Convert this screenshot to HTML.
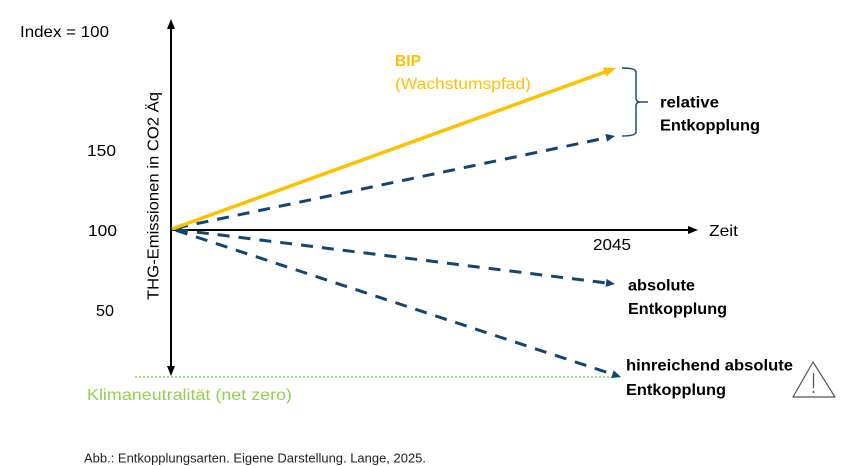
<!DOCTYPE html>
<html>
<head>
<meta charset="utf-8">
<style>
html,body{margin:0;padding:0;background:#fff;}
svg{display:block;}
text{font-family:"Liberation Sans",sans-serif;}
</style>
</head>
<body>
<svg width="864" height="466" viewBox="0 0 864 466" xmlns="http://www.w3.org/2000/svg">
<rect width="864" height="466" fill="#fff"/>

<!-- green net zero dotted line -->
<line x1="135" y1="377" x2="620" y2="377" stroke="#92D050" stroke-width="1.5" stroke-dasharray="2,2"/>

<!-- y axis -->
<line x1="171" y1="28" x2="171" y2="367" stroke="#000" stroke-width="2"/>
<polygon points="171,19 167,29 175,29" fill="#000"/>
<polygon points="171,376 167,366 175,366" fill="#000"/>

<!-- x axis -->
<line x1="171" y1="230" x2="689" y2="230" stroke="#000" stroke-width="2"/>
<polygon points="698,230 688,226 688,234" fill="#000"/>

<!-- dashed lines -->
<g stroke="#124672" stroke-width="3" stroke-dasharray="12,9" fill="none">
<line x1="176" y1="228" x2="606.2" y2="137.85"/>
<line x1="176" y1="229.5" x2="606.1" y2="282.9"/>
<line x1="176" y1="230.3" x2="612.5" y2="374.2"/>
</g>
<g fill="#124672">
<polygon points="615,136 607.0,141.8 605.4,133.9"/>
<polygon points="615,284 605.6,286.9 606.6,278.9"/>
<polygon points="621,377 611.2,378.0 613.7,370.4"/>
<polygon points="172,229 182,225.5 182,232.5"/>
</g>

<!-- yellow BIP line -->
<line x1="172" y1="229" x2="605" y2="72" stroke="#FFC000" stroke-width="3.5"/>
<polygon points="616,68 606.4,76.8 603.0,67.4" fill="#FFC000"/>

<!-- bracket -->
<path d="M622,68 Q636,68 636,72 L636,98 Q636,102 640,102 L648,102 M640,102 Q636,102 636,106 L636,132 Q636,136 622,136" stroke="#1F4E79" stroke-width="1.5" fill="none"/>

<!-- warning triangle -->
<path d="M813,362 L793,397 L835,397 Z" stroke="#555" stroke-width="1.2" fill="#fff" stroke-linejoin="round"/>
<line x1="813.5" y1="373" x2="813.5" y2="388" stroke="#555" stroke-width="1.3"/>
<circle cx="813.5" cy="392" r="1" fill="#555"/>

<!-- texts -->
<g font-size="16" fill="#000">
<text x="20" y="37" textLength="89" lengthAdjust="spacingAndGlyphs">Index = 100</text>
<text x="87" y="156" textLength="29" lengthAdjust="spacingAndGlyphs">150</text>
<text x="88" y="236" textLength="29" lengthAdjust="spacingAndGlyphs">100</text>
<text x="96" y="316" textLength="18" lengthAdjust="spacingAndGlyphs">50</text>
<text x="709" y="236" textLength="29" lengthAdjust="spacingAndGlyphs">Zeit</text>
<text x="593" y="250" textLength="38" lengthAdjust="spacingAndGlyphs">2045</text>
<text transform="translate(158.5,300) rotate(-90)" x="0" y="0" textLength="208" lengthAdjust="spacingAndGlyphs">THG-Emissionen in CO2 Äq</text>
</g>

<g font-size="16" font-weight="bold" fill="#000">
<text x="660" y="107.7" textLength="59" lengthAdjust="spacingAndGlyphs">relative</text>
<text x="660" y="130.7" textLength="100" lengthAdjust="spacingAndGlyphs">Entkopplung</text>
<text x="628" y="290.7" textLength="67" lengthAdjust="spacingAndGlyphs">absolute</text>
<text x="628" y="314" textLength="99" lengthAdjust="spacingAndGlyphs">Entkopplung</text>
<text x="626" y="370.7" textLength="167" lengthAdjust="spacingAndGlyphs">hinreichend absolute</text>
<text x="626" y="395" textLength="100" lengthAdjust="spacingAndGlyphs">Entkopplung</text>
</g>

<text x="395" y="66" font-size="16" font-weight="bold" fill="#FFC000" textLength="26" lengthAdjust="spacingAndGlyphs">BIP</text>
<text x="395" y="89" font-size="16" fill="#FFC000" textLength="136" lengthAdjust="spacingAndGlyphs">(Wachstumspfad)</text>

<text x="87" y="400" font-size="16" fill="#92D050" textLength="205" lengthAdjust="spacingAndGlyphs">Klimaneutralität (net zero)</text>

<text x="84" y="462.7" font-size="12.5" fill="#222" textLength="342" lengthAdjust="spacingAndGlyphs">Abb.: Entkopplungsarten. Eigene Darstellung. Lange, 2025.</text>
</svg>
</body>
</html>
